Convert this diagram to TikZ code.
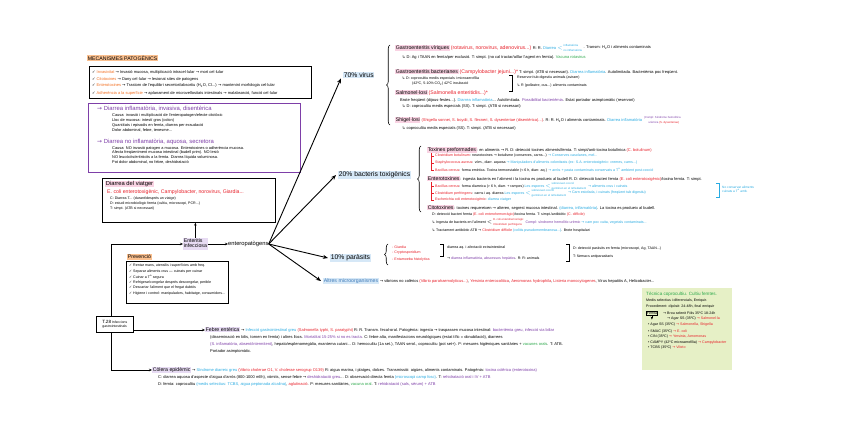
\documentclass[tikz,border=0pt]{standalone}
\usepackage{fontspec}
\setmainfont{Liberation Sans}
\newfontfamily\symf{DejaVu Sans}
\usetikzlibrary{arrows.meta,decorations.pathreplacing}
\definecolor{cred}{HTML}{E8202A}
\definecolor{cblue}{HTML}{29ABE2}
\definecolor{cpurple}{HTML}{7E3FA8}
\definecolor{corange}{HTML}{F36F21}
\definecolor{cgreen}{HTML}{2BA84A}
\definecolor{cgrey}{HTML}{3D7AB8}
\definecolor{hpink}{HTML}{F9D3E3}
\definecolor{hblue}{HTML}{D6E8F7}
\definecolor{hpurple}{HTML}{E7DBF3}
\definecolor{horange}{HTML}{FBC08F}
\definecolor{gbox}{HTML}{E6F0C6}
\newcommand\fsb{\fontsize{4}{4.6}\selectfont}
\newcommand\fss{\fontsize{3.6}{4.1}\selectfont}
\newcommand\fsp{\fontsize{3.9}{4.4}\selectfont}
\newcommand\bigf{\fontsize{5.2}{5.7}\selectfont}
\newcommand\hugef{\fontsize{6.8}{7.3}\selectfont}
\newcommand\rd[1]{\textcolor{cred}{#1}}
\newcommand\bl[1]{\textcolor{cblue}{#1}}
\newcommand\pu[1]{\textcolor{cpurple}{#1}}
\newcommand\gr[1]{\textcolor{cgreen}{#1}}
\newcommand\hlp[1]{{\setlength{\fboxsep}{0.6pt}\colorbox{hpink}{#1}}}
\newcommand\hlb[1]{{\setlength{\fboxsep}{0.6pt}\colorbox{hblue}{#1}}}
\newcommand\hlu[1]{{\setlength{\fboxsep}{0.6pt}\colorbox{hpurple}{#1}}}
\newcommand\hlo[1]{{\setlength{\fboxsep}{0.6pt}\colorbox{horange}{#1}}}
\newcommand\chk{{\symf ✓}}
\newcommand\hk{{\symf ↳}}
\newcommand\toar{{\symf →}}
\newcommand\stkn[2]{{\renewcommand\arraystretch{0.9}\begin{tabular}{@{}l@{}}#1\\#2\end{tabular}}}
\begin{document}
\begin{tikzpicture}[x=1pt,y=-1pt,
  tx/.style={inner sep=0pt, anchor=west, font=\fsb},
  sm/.style={inner sep=0pt, anchor=west, font=\fss},
  sp/.style={inner sep=0pt, anchor=west, font=\fsp},
  hd/.style={inner sep=0pt, anchor=west, font=\bigf},
  stt/.style={inner sep=0pt, anchor=south west, font=\fontsize{2.8}{3}\selectfont},
  stb/.style={inner sep=0pt, anchor=north west, font=\fontsize{2.8}{3}\selectfont},
  boxn/.style={draw, line width=0.7pt, anchor=north west, inner sep=0pt},
  arr/.style={-{Stealth[length=3pt,width=2.5pt]}, line width=0.6pt},
  bigarr/.style={-{Stealth[length=5pt,width=4pt]}, line width=0.9pt},
  brc/.style={decorate, decoration={brace, amplitude=3.5pt}, line width=0.6pt}]
\useasboundingbox (0,0) rectangle (848,430);
\fill[white] (0,0) rectangle (848,430);

% ---------------- mecanismes
\node[hd] (mech) at (87,58) {\hlo{MECANISMES PATOGÈNICS}};
\node[boxn, minimum width=222pt, minimum height=32pt] (mbox) at (89,66) {};
\node[tx] (m1) at (92,72) {\chk\ \textcolor{corange}{Invasivitat} \toar\ Invasió mucosa, multiplicació intracel·lular \toar\ mort cel·lular};
\node[tx] (m2) at (92,79) {\chk\ \textcolor{corange}{Citotoxines} \toar\ Dany cel·lular \toar\ lesionat sites de patogens};
\node[tx] (m3) at (92,86) {\chk\ \textcolor{corange}{Enterotoxines} \toar\ Trastorn de l'equilibri secretori/absortiu (H\textsubscript{2}O, Cl...) \toar\ mantenint morfologia cel·lular};
\node[tx] (m4) at (92,93) {\chk\ \textcolor{corange}{Adherència a la superfície} \toar\ aplanament de microvellositats intestinals \toar\ malabsorció, funció cel·lular};

% ---------------- diarrees (purple box)
\node[draw=cpurple, line width=0.7pt, anchor=north west, inner sep=0pt, minimum width=212pt, minimum height=69pt] (pbox) at (88,103) {};
\node[hd, text=cpurple, font=\fontsize{5.9}{6.4}\selectfont] (p1) at (97,109) {\toar\ Diarrea inflamatòria, invasiva, disentèrica};
\node[sp] (p1a) at (112,115) {Causa: invasió i multiplicació de l'enteropatogen/efecte citotòxic};
\node[sp] (p1b) at (112,120) {Lloc de mucosa: intestí gros (colon)};
\node[sp] (p1c) at (112,125) {Quantitats i episodis en femta, diarrea per exsudació};
\node[sp] (p1d) at (112,130) {Dolor abdominal, febre, tenesme...};
\node[hd, text=cpurple, font=\fontsize{5.9}{6.4}\selectfont] (p2) at (97,142) {\toar\ Diarrea no inflamatòria, aquosa, secretora};
\node[sp] (p2a) at (112,148) {Causa: NO invasió patogen a mucosa. Enterotoxines o adherència mucosa.};
\node[sp] (p2b) at (112,152.7) {Afecta freqüentment mucosa intestinal (budell prim). NO lesió};
\node[sp] (p2c) at (112,157.4) {NO leucòcits/eritròcits a la femta. Diarrea líquida voluminosa.};
\node[sp] (p2d) at (112,162.1) {Pot dolor abdominal, no febre, deshidratació};

% ---------------- diarrea del viatger
\node[boxn, minimum width=173pt, minimum height=44pt] (viat) at (102,178) {};
\node[hd, font=\fontsize{5.8}{6.3}\selectfont] (v1) at (105,184) {\hlp{Diarrea del viatger}};
\node[hd, text=cred] (v2) at (107,192.5) {E. coli enterotoxigènic, Campylobacter, norovirus, Giardia...};
\node[sm] (v3) at (110,198.5) {C: Diarrea T... (durant/després un viatge)};
\node[sm] (v4) at (110,203.5) {D: estudi microbiològic femta (cultiu, microscopi, PCR...)};
\node[sm] (v5) at (110,208.5) {T: simpt. (ATB si necessari)};

% ---------------- centre
\node[hd, anchor=west] (ent) at (183,244) {\hlu{\stkn{Enteritis}{infecciosa}}};
\node[hd, font=\fontsize{5.8}{6.3}\selectfont] (entp) at (228,244) {enteropatògens};
\draw[arr] (ent.east) -- (entp.west);
\draw[arr] (ent.north) -- (ent.north |- viat.south);

% ---------------- prevencio
\node[hd] (prevl) at (127,257) {\hlo{Prevenció}};
\node[boxn, minimum width=102pt, minimum height=42pt] (prev) at (126,261) {};
\node[sm] (pv1) at (129,266) {\chk\ Rentar mans, utensilis i superfícies amb freq.};
\node[sm] (pv2) at (129,271.5) {\chk\ Separar aliments crus — cuinats per cuinar};
\node[sm] (pv3) at (129,277) {\chk\ Cuinar a T\textsuperscript{a} segura};
\node[sm] (pv4) at (129,282.5) {\chk\ Refrigerar/congelar després descongelar, perible};
\node[sm] (pv5) at (129,288) {\chk\ Descartar l'aliment que el fregat dubtós};
\node[sm] (pv6) at (129,293.5) {\chk\ Higiene i control: manipuladors, habitatge, consumidors...};

% ---------------- T28
\node[boxn, inner sep=1pt, minimum width=37pt, minimum height=16pt, font=\fontsize{3.4}{4.4}\selectfont] (t28) at (96,316) {\stkn{{\fontsize{4.6}{4.8}\selectfont T.28} Infeccions}{gastrointestinals}};
\coordinate (tj) at (111,300);
\draw[arr] (t28.north -| tj) |- (ent.west);

% ---------------- febre / colera
\node[tx] (fe1) at (205,330) {\hlu{\bigf Febre entèrica} \toar\ \bl{Infecció gastrointestinal greu} \rd{(Salmonella typhi, S. paratyphi)} R: R. Transm. fecal-oral. Patogènia: ingesta \toar\ traspassen mucosa intestinal: \pu{bacterièmia greu, infecció via biliar}};
\node[tx] (fe2) at (210,337.5) {(disseminació en bilis, tornen en femta) i altres llocs. \pu{Mortalitat 15-25\% si no es tracta}. C: febre alta, manifestacions neurològiques (estat tífic = obnubilació), diarrees};
\node[tx] (fe3) at (210,344.5) {\pu{(S. inflamatòria, absent/intermitent)}, hepato/esplenomegàlia, exantema cutani... D: hemocultiu (1a set.), TAAN serol., coprocultiu (pot set+). P: mesures higièniques sanitàries + \gr{vacunes orals}. T: ATB.};
\node[tx] (fe4) at (210,351.5) {Portador asimptomàtic.};
\draw[arr] (t28.east |- fe1.west) -- (fe1.west);

\node[tx] (co1) at (152,370) {\hlu{\bigf Còlera epidèmic} \toar\ \bl{Síndrome diarreic greu} \rd{(Vibrio cholerae O1, V. cholerae serogrup O139)} R: aigua marina, i platges, dolces. Transmissió: aigües, aliments contaminats. Patogènia: \pu{toxina colèrica (enterotoxina)}};
\node[tx] (co2) at (158,377.5) {C: diarrea aquosa d'aspecte d'aigua d'arròs (800-1000 ml/h), vòmits, sense febre \toar\ \pu{deshidratació greu}... D: observació directa femta \bl{(microscopi camp fosc)}. T: \pu{rehidratació oral i IV + ATB}};
\node[tx] (co3) at (158,384.5) {D: femta: coprocultiu \bl{(medis selectius: TCBS, aigua peptonada alcalina)}, \rd{aglutinació}. P: mesures sanitàries, \gr{vacuna oral}. T: \pu{rehidratació (sals, sèrum) + ATB}};
\draw[arr] (t28.south -| tj) |- (co1.west);

% ---------------- 70% virus
\node[hd, font=\hugef] (v70) at (343,75) {\hlb{70\% virus}};
\draw[bigarr] (entp.east) -- ([xshift=-2pt]v70.south west);
\draw[brc] (390,125) -- (390,45);
\node[tx] (g1a) at (395,48) {\hlp{\bigf Gastroenteritis víriques} \rd{\bigf (rotavirus, norovirus, adenovirus...)} R: R. \bl{Diarrea $<$}};
\node[stt, text=cblue] (g1b) at ([xshift=0.6pt,yshift=0.9pt]g1a.east) {inflamatòria};
\node[stb, text=cblue] (g1c) at ([xshift=0.6pt,yshift=-0.9pt]g1a.east) {no inflamatòria};
\node[tx] (g1d) at ([xshift=1.2pt]g1c.east |- g1a.east) {. Transm: H\textsubscript{2}O i aliments contaminats};
\node[tx] (g1e) at (402,57) {\hk\ D: Ag i TAAN en femta/per exclusió. T: simpt. (no cal tractar/aïllar l'agent en femta). \gr{Vacuna rotavirus}};
\node[tx] (g2) at (395,72) {\hlp{\bigf Gastroenteritis bacterianes} \rd{\bigf (Campylobacter jejuni...)*} T: simpt. (ATB si necessari). \bl{Diarrea inflamatòria}. Autolimitada. Bacterièmia poc freqüent.};
\node[sm] (g2b) at (402,79) {\hk\ D: coprocultiu medis especials i microaerofília};
\node[sm] (g2c) at (412,84) {(42ºC, 5-10\% CO\textsubscript{2}) 42ºC incubació};
\draw[line width=0.5pt] (509,75) -- (512,75) -- (512,91) -- (509,91);
\node[sm] (g2d) at (517,78) {Reservori tub digestiu animals (aviram)};
\node[sm] (g2e) at (517,86) {\hk\ R (pollastre, ous...) aliments contaminats};
\node[tx] (s1) at (395,93) {\hlp{\bigf Salmonel·losi} \rd{\bigf (Salmonella enteritidis...)*}};
\node[tx] (s2) at (400,100) {Brote freqüent (dijous-festes...). \bl{Diarrea inflamatòria}... Autolimitada. \pu{Possibilitat bacterièmia}. Estat portador asimptomàtic (reservori)};
\node[tx] (s3) at (402,106.5) {\hk\ D: coprocultiu medis especials (SS). T: simpt. (ATB si necessari)};
\node[tx] (sh1) at (395,120) {\hlp{\bigf Shigel·losi} \rd{(Shigella sonnei, S. boydii, S. flexneri, S. dysenteriae (disentèrica)...)}. R: R. H\textsubscript{2}O i aliments contaminats. \bl{Diarrea inflamatòria}};
\node[stt, text=cpurple] (sh1b) at ([xshift=1.5pt,yshift=0.9pt]sh1.east) {(Compl: Síndrome hemolítica};
\node[stb, text=cpurple] (sh1c) at ([xshift=6pt,yshift=-0.9pt]sh1.east) {urèmica \rd{(S. dysenteriae)}};
\node[tx] (sh2) at (402,128) {\hk\ coprocultiu medis especials (SS). T: simpt. (ATB si necessari)};

% ---------------- 20% bacteris
\node[hd, font=\hugef] (b20) at (338,175) {\hlb{20\% bacteris toxigènics}};
\draw[bigarr] (entp.east) -- ([xshift=-2pt]b20.west);
\draw[brc] (421,212) -- (421,146);
\node[tx] (tp) at (427,150) {\hlp{\bigf Toxines preformades}: en aliments \toar\ R. D: detecció toxines aliments/femta. T: simpt/anti-toxina botulínica \rd{(C. botulinum)}};
\draw[cred, line width=0.5pt] (431,153) -- (431,170) -- (434,170) (431,156) -- (434,156) (431,163) -- (434,163);
\node[sm] (tp1) at (435,156) {\rd{Clostridium botulinum}: neurotoxines \toar\ botulisme (conserves, carns...) \bl{\toar\ Conserves casolanes, mel...}};
\node[sm] (tp2) at (435,163) {\rd{Staphylococcus aureus}: vòm., diarr. aquosa \bl{\toar\ Manipuladors d'aliments colonitzats (ex: S.A. enterotoxigènic: cremes, carns...)}};
\node[sm] (tp3) at (435,170) {\rd{Bacillus cereus}: forma emètica. Toxina termoestable (< 6 h, diarr. aq.) \bl{\toar\ arròs + pasta contaminats conservats a T\textsuperscript{a} ambient post-cocció}};
\node[tx] (et) at (427,179) {\hlp{\bigf Enterotoxines}: ingesta bacteris en l'aliment i la toxina es produeix al budell R. D: detecció bacteri femta \rd{(E. coli enterotoxigènic)}/toxina femta. T: simpt.};
\draw[cred, line width=0.5pt] (431,182) -- (431,200) -- (434,200) (431,186) -- (434,186) (431,193) -- (434,193);
\node[sm] (et1a) at (435,186) {\rd{Bacillus cereus}: forma diarreica (> 6 h, diarr. + rampes) \bl{Les espores $<$}};
\node[stt, text=cblue] (et1b) at ([xshift=0.6pt,yshift=0.9pt]et1a.east) {sobreviuen cocció};
\node[stb, text=cblue] (et1c) at ([xshift=0.6pt,yshift=-0.9pt]et1a.east) {germinen en el refredament};
\node[sm] (et1d) at ([xshift=1.5pt]et1c.east |- et1a.east) {\bl{\toar\ aliments crus i cuinats}};
\node[sm] (et2a) at (435,193) {\rd{Clostridium perfringens}: carns i aq. diarrea \bl{Les espores $<$}};
\node[stt, text=cblue] (et2b) at ([xshift=0.6pt,yshift=0.9pt]et2a.east) {sobreviuen cocció};
\node[stb, text=cblue] (et2c) at ([xshift=0.6pt,yshift=-0.9pt]et2a.east) {germinen en el refredament};
\node[sm] (et2d) at ([xshift=1.5pt]et2c.east |- et2a.east) {\bl{\toar\ Carn estofada, i cuinats (freqüent tub digestiu)}};
\node[sm] (et3) at (435,200) {\rd{Escherichia coli enterotoxigènic}: \bl{diarrea viatger}};
\draw[cblue, line width=0.5pt] (716,183) -- (719,183) -- (719,197) -- (716,197);
\node[sm, text=cblue, font=\fontsize{3.2}{3.6}\selectfont] (etn) at (722,190) {\stkn{No conservar aliments}{cuinats a T\textsuperscript{a} amb.}};
\node[tx] (ct) at (427,208) {\hlp{\bigf Citotoxines}: toxines requereixen \toar\ alteren, segrest mucosa intestinal. \bl{(diarrea, inflamatòria)}. La toxina es produeix al budell.};
\node[sm] (ct1) at (432,215) {D: detecció bacteri femta \rd{(E. coli enterohemorràgic)}/toxina femta. T: simpt./antibiòtic \rd{(C. difficile)}};
\node[sm] (ct2a) at (432,222.5) {\hk\ Ingesta de bacteris en l'aliment $<$};
\node[stt, text=cred] (ct2b) at ([xshift=0.6pt,yshift=0.9pt]ct2a.east) {E. coli enterohemorràgic};
\node[stb, text=cred] (ct2c) at ([xshift=0.6pt,yshift=-0.9pt]ct2a.east) {Clostridium perfringens};
\node[sm] (ct2d) at ([xshift=1.5pt]ct2b.east |- ct2a.east) {\pu{Compl: síndrome hemolític urèmic} \bl{\toar\ carn poc cuita, vegetals contaminats...}};
\node[sm] (ct3) at (432,231) {\hk\ Tractament antibiòtic ATB \toar\ \rd{Clostridium difficile} \bl{(colitis pseudomembranosa...)}. Brote hospitalari};

% ---------------- 10% parasits
\node[hd, font=\hugef] (p10) at (330,258) {\hlb{10\% paràsits}};
\draw[bigarr] (entp.east) -- ([xshift=-2pt]p10.west);
\draw[brc] (388,265) -- (388,244);
\node[sm, text=cred] (pr1) at (392,247) {- Giardia};
\node[sm, text=cred] (pr2) at (392,253) {- Cryptosporidium};
\node[sm, text=cred] (pr3) at (392,260) {- Entamoeba histolytica};
\draw[line width=0.5pt] (440,244) -- (443,244) -- (443,256) -- (440,256);
\node[sm] (pd1) at (447,248) {diarrea aq. i afectació extraintestinal};
\node[sm] (pd2) at (447,259) {\toar\ \pu{diarrea inflamatòria, abscessos hepàtics}. R: R: animals};
\draw[line width=0.5pt] (566,244) -- (569,244) -- (569,261) -- (566,261);
\node[sm] (pd3) at (573,249) {D: detecció paràsits en femta (microscopi, Ag, TAAN...)};
\node[sm] (pd4) at (573,257) {T: fàrmacs antiparasitaris};

% ---------------- altres
\node[tx] (alt) at (323,281) {\textcolor{cgrey}{\bigf\hlb{Altres microorganismes}} \toar\ vibrions no colèrics \rd{(Vibrio parahaemolyticus...)}, \rd{Yersinia enterocolitica}, \rd{Aeromonas hydrophila}, \rd{Listeria monocytogenes}, Virus hepatitis A, Helicobacter...};
\draw[bigarr] (entp.east) -- ([xshift=-2pt]alt.west);

% ---------------- green box
\node[fill=gbox, anchor=north west, inner sep=0pt, minimum width=90pt, minimum height=82pt] (gbx) at (642,288) {};
\node[tx, font=\fontsize{4.6}{5}\selectfont, text=cgreen] (gb1) at (646,294.5) {Tècnica coprocultiu. Cultiu femtes.};
\node[sm] (gb2) at (646,301) {Medis selectius i diferencials, Enriquir.};
\node[sm] (gb3) at (646,306.5) {Procediment: dipòsit: 24-48h, final enriquir};
\node[sm, draw, line width=0.4pt, inner sep=0.6pt] (gbf) at (646,313.5) {Femta};
\node[sm] (gb4) at (663,313) {\toar\ Brou selenit F/ds 35ºC 18-24h};
\node[sm] (gb5) at (667,318.5) {\toar\ Agar SS (35ºC) \rd{\toar\ Salmonel·la}};
\node[sm] (gb6) at (648,324.5) {• Agar SS (35ºC) \rd{\toar\ Salmonella, Shigella}};
\node[sm] (gb7) at (648,331.5) {• SMAC (35ºC) \rd{\toar\ E. coli}};
\node[sm] (gb8) at (648,337) {• CIN (35ºC) \rd{\toar\ Yersinia, Aeromonas}};
\node[sm] (gb9) at (648,342.5) {• CAMPY (42ºC microaerofília) \rd{\toar\ Campylobacter}};
\node[sm] (gb10) at (648,348) {• TCBS (35ºC) \rd{\toar\ Vibrio}};
\draw[arr, line width=0.4pt] (gbf.south) -- ++(0,4);
\end{tikzpicture}
\end{document}
